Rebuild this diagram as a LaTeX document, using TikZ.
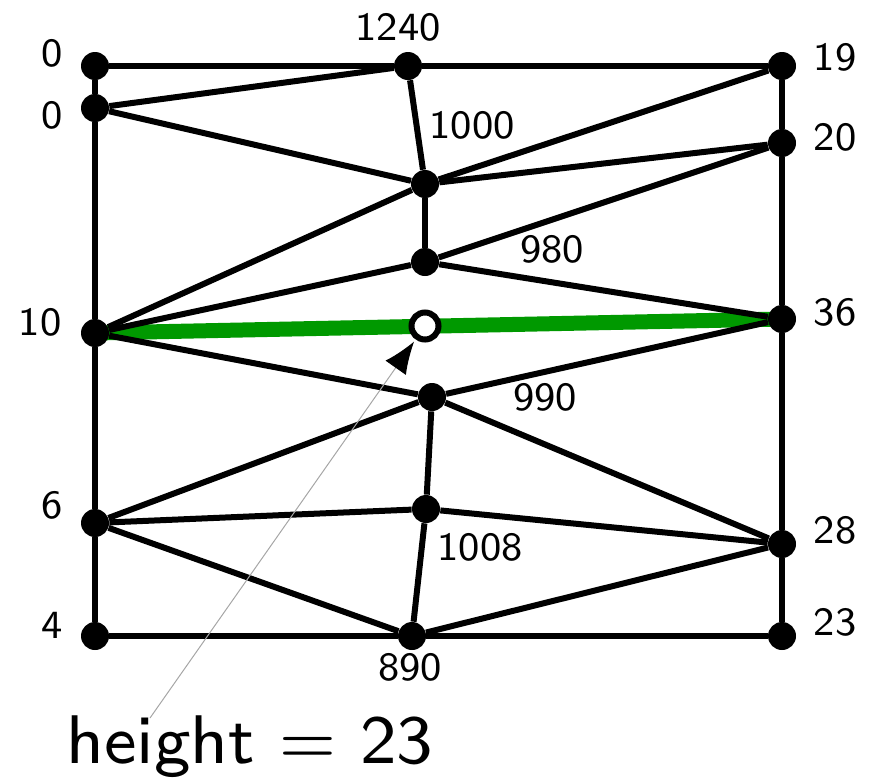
\documentclass[tikz,border=0pt]{standalone}
\usetikzlibrary{arrows.meta,backgrounds}
\definecolor{cutgreen}{HTML}{009900}
\tikzset{dot/.style={circle,fill=black,inner sep=0pt,minimum size=14pt},
  hollow/.style={circle,draw=black,fill=white,line width=3pt,inner sep=0pt,minimum size=13.5pt},
  lab/.style={font=\fontsize{8}{9.6}\selectfont\sffamily,scale=2.5,inner sep=0pt},
  edge/.style={line width=3pt,draw=black},
  cut/.style={line width=7.5pt,draw=cutgreen},
  pointer/.style={draw=black!35,line width=0.5pt,-{Latex[length=16pt,width=12.5pt,color=black]},shorten >=1.25pt}}
\begin{document}
\begin{tikzpicture}[x=0.5pt,y=-0.5pt]
\useasboundingbox (0,0) rectangle (876,782);
% vertices: left column, middle, right column
\node[dot] (l0a) at (95,66) {};
\node[dot] (l0b) at (95,108) {};
\node[dot] (l10) at (95,333) {};
\node[dot] (l6) at (95,523) {};
\node[dot] (l4) at (95,636) {};
\node[dot] (t1240) at (408,66) {};
\node[dot] (m1000) at (425,184) {};
\node[dot] (m980) at (425,262) {};
\node[dot] (m990) at (432,397) {};
\node[dot] (m1008) at (426,509) {};
\node[dot] (b890) at (412,636) {};
\node[dot] (r19) at (782,66) {};
\node[dot] (r20) at (782,143) {};
\node[dot] (r36) at (782,319) {};
\node[dot] (r28) at (782,544) {};
\node[dot] (r23) at (782,636) {};
% values
\node[lab] (tl0a) at (52,53) {0};
\node[lab] (tl0b) at (52,115) {0};
\node[lab] (tl10) at (40,322) {10};
\node[lab] (tl6) at (52,505) {6};
\node[lab] (tl4) at (52,625) {4};
\node[lab] (tt1240) at (398,27) {1240};
\node[lab] (tm1000) at (472,125) {1000};
\node[lab] (tm980) at (552,249) {980};
\node[lab] (tm990) at (545,397) {990};
\node[lab] (tm1008) at (480,547) {1008};
\node[lab] (tb890) at (410,667) {890};
\node[lab] (tr19) at (835,57) {19};
\node[lab] (tr20) at (835,137) {20};
\node[lab] (tr36) at (835,312) {36};
\node[lab] (tr28) at (835,530) {28};
\node[lab] (tr23) at (835,622) {23};
% edges
\draw[edge] (l0a)--(t1240)--(r19)--(r20)--(r36)--(r28)--(r23)--(b890)--(l4)--(l6)--(l10)--(l0b)--(l0a);
\draw[edge] (l0b)--(t1240); \draw[edge] (l0b)--(m1000); \draw[edge] (t1240)--(m1000);
\draw[edge] (m1000)--(r19); \draw[edge] (m1000)--(r20); \draw[edge] (m1000)--(l10); \draw[edge] (m1000)--(m980);
\draw[edge] (m980)--(r20); \draw[edge] (m980)--(l10); \draw[edge] (m980)--(r36);
\draw[edge] (l10)--(m990); \draw[edge] (m990)--(r36); \draw[edge] (m990)--(l6); \draw[edge] (m990)--(m1008); \draw[edge] (m990)--(r28);
\draw[edge] (l6)--(m1008); \draw[edge] (m1008)--(r28); \draw[edge] (l6)--(b890); \draw[edge] (m1008)--(b890); \draw[edge] (b890)--(r28);
\begin{scope}[on background layer]
\draw[cut] (l10.center)--(r36.center);
\end{scope}
\node[hollow] (probe) at (425,326) {};
% caption and pointer
\node[font=\fontsize{8}{9.6}\selectfont\sffamily,scale=4.3,anchor=base,inner sep=0pt] (height) at (250,763) {height $=$ 23};
\coordinate (hdot) at (150,718);
\draw[pointer] (hdot)--(probe);
\end{tikzpicture}
\end{document}
